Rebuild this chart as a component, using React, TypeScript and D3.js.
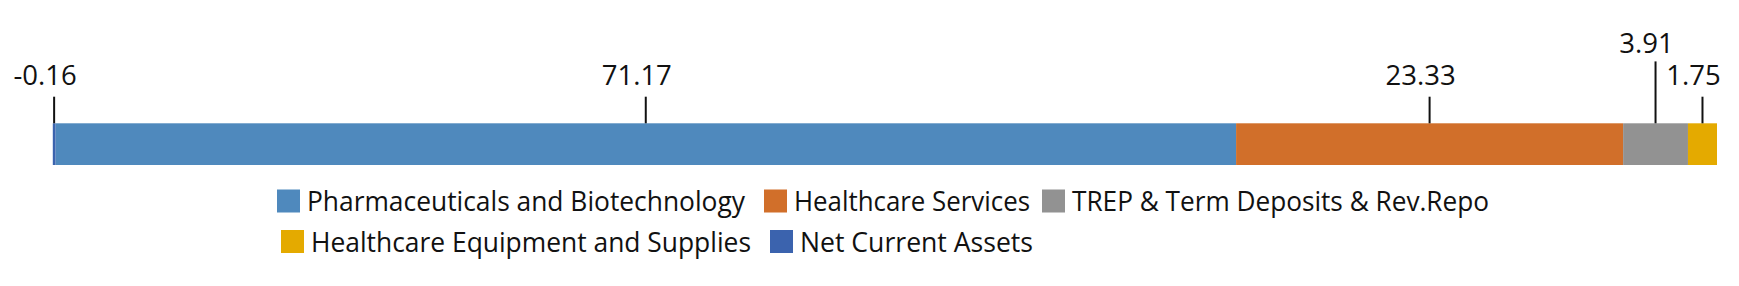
import React, { useEffect, useRef } from "react";
import * as d3 from "d3";

const categories = [
  "Pharmaceuticals and Biotechnology",
  "Healthcare Services",
  "TREP & Term Deposits & Rev.Repo",
  "Healthcare Equipment and Supplies",
  "Net Current Assets",
];
const values = [71.17, 23.33, 3.91, 1.75, -0.16];
const colors = ["#4f89bd", "#d16f2a", "#929292", "#e4aa00", "#3b63ae"];
const legendRows = [[0, 1, 2], [3, 4]];

const W = 1739;
const H = 286;
const FONT = "'Open Sans', 'Noto Sans', sans-serif";

export default function App() {
  const ref = useRef<SVGSVGElement>(null);

  useEffect(() => {
    const svg = d3.select(ref.current);
    svg.selectAll("*").remove();

    // stack: negatives go left of zero, positives right
    let pos = 0;
    let neg = 0;
    const segs = values.map((v, i) => {
      if (v >= 0) {
        const s = { i, v, x0: pos, x1: pos + v };
        pos += v;
        return s;
      } else {
        const s = { i, v, x0: neg + v, x1: neg };
        neg += v;
        return s;
      }
    });
    const x = d3.scaleLinear().domain([neg, pos]).range([52.8, 1717]);

    const barTop = 123.3;
    const barH = 41.7;
    svg
      .append("g")
      .selectAll("rect")
      .data(segs)
      .join("rect")
      .attr("x", (d) => x(d.x0))
      .attr("y", barTop)
      .attr("width", (d) => Math.max(0, x(d.x1) - x(d.x0)))
      .attr("height", barH)
      .attr("fill", (d) => colors[d.i]);

    // labels with simple right-to-left stagger
    const fs = 27.5;
    const lab = segs
      .map((d) => ({ ...d, cx: x((d.x0 + d.x1) / 2), text: d.v.toFixed(2), level: 0 }))
      .sort((a, b) => a.cx - b.cx);
    const widths = lab.map((d) => d.text.length * fs * 0.5);
    for (let k = lab.length - 2; k >= 0; k--) {
      const right = lab[k + 1];
      const gap = right.cx - lab[k].cx;
      const need = (widths[k] + widths[k + 1]) / 2 + 4;
      if (gap < need && right.level === 0) lab[k].level = 1;
    }
    const baseY = 85;
    const lift = 32.3;
    const g = svg.append("g");
    g.selectAll("line")
      .data(lab)
      .join("line")
      .attr("x1", (d) => d.cx)
      .attr("x2", (d) => d.cx)
      .attr("y1", (d) => baseY + 11.7 - d.level * (lift + 3))
      .attr("y2", barTop)
      .attr("stroke", "#111")
      .attr("stroke-width", 2);
    g.selectAll("text")
      .data(lab)
      .join("text")
      .attr("x", (d) => d.cx - 9)
      .attr("y", (d) => baseY - d.level * lift)
      .attr("text-anchor", "middle")
      .attr("font-family", FONT)
      .attr("font-size", fs)
      .attr("fill", "#111")
      .text((d) => d.text);

    // legend
    const rowStarts = [
      [277, 764, 1042],
      [281, 770],
    ];
    const textLens = [438, 236, 417, 440, 233];
    const rowTops = [189.5, 230];
    const sw = 23;
    const lg = svg.append("g");
    legendRows.forEach((row, r) => {
      row.forEach((ci, j) => {
        const lx = rowStarts[r][j];
        lg.append("rect")
          .attr("x", lx)
          .attr("y", rowTops[r])
          .attr("width", sw)
          .attr("height", sw)
          .attr("fill", colors[ci]);
        lg.append("text")
          .attr("x", lx + sw + 7)
          .attr("y", rowTops[r] + 21.8)
          .attr("font-family", FONT)
          .attr("font-size", 26.5)
          .attr("textLength", textLens[ci])
          .attr("lengthAdjust", "spacingAndGlyphs")
          .attr("fill", "#111")
          .text(categories[ci]);
      });
    });
  }, []);

  return (
    <svg
      ref={ref}
      width={W}
      height={H}
      style={{ position: "absolute", left: 0, top: 0, background: "#fff" }}
    />
  );
}
